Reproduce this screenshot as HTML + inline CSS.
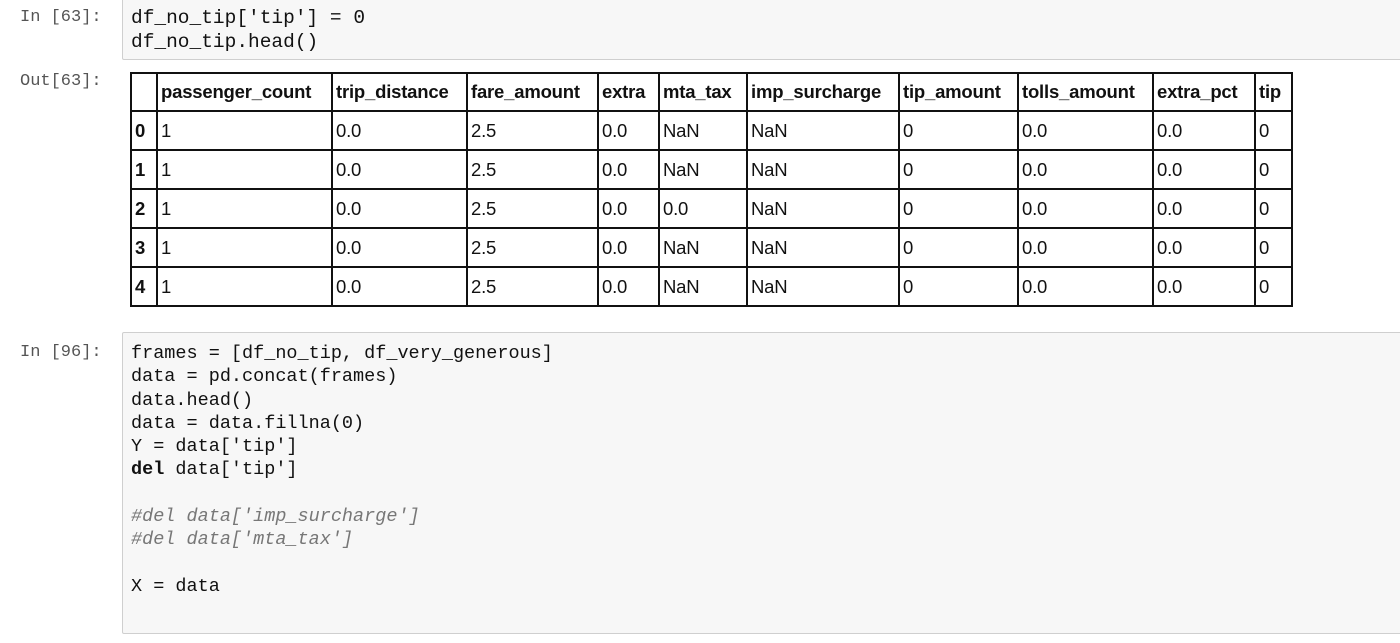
<!DOCTYPE html>
<html><head><meta charset="utf-8"><style>
body{margin:0;width:1400px;height:643px;background:#fff;position:relative;overflow:hidden;font-family:"Liberation Sans",sans-serif}
.p{position:absolute;font-family:"Liberation Mono",monospace;font-size:17px;color:#555}
.cell{position:absolute;left:122px;width:1290px;background:#f7f7f7;border:1px solid #cfcfcf;border-radius:2px}
pre{position:absolute;left:131px;margin:0;font-family:"Liberation Mono",monospace;font-size:18.5px;line-height:23.3px;color:#111}
.c{color:#777;font-style:italic}
table{position:absolute;left:130px;top:72px;border-collapse:collapse;font-size:18.5px;color:#111;letter-spacing:-0.2px}
td,th{border:2px solid #111;padding:0 3px;text-align:left;height:37px}
tr:first-child th{height:36px}
th{font-weight:bold}
</style></head><body>
<div class="p" style="left:20px;top:8px">In [63]:</div>
<div class="cell" style="top:-2px;height:60px"></div>
<pre style="top:6px;font-size:19.5px;line-height:24px">df_no_tip['tip'] = 0
df_no_tip.head()</pre>
<div class="p" style="left:20px;top:72px">Out[63]:</div>
<table>
<colgroup><col style="width:26px"><col style="width:175px"><col style="width:135px"><col style="width:131px"><col style="width:61px"><col style="width:88px"><col style="width:152px"><col style="width:119px"><col style="width:135px"><col style="width:102px"><col style="width:37px"></colgroup>
<tr><th></th><th>passenger_count</th><th>trip_distance</th><th>fare_amount</th><th>extra</th><th>mta_tax</th><th>imp_surcharge</th><th>tip_amount</th><th>tolls_amount</th><th>extra_pct</th><th>tip</th></tr>
<tr><th>0</th><td>1</td><td>0.0</td><td>2.5</td><td>0.0</td><td>NaN</td><td>NaN</td><td>0</td><td>0.0</td><td>0.0</td><td>0</td></tr>
<tr><th>1</th><td>1</td><td>0.0</td><td>2.5</td><td>0.0</td><td>NaN</td><td>NaN</td><td>0</td><td>0.0</td><td>0.0</td><td>0</td></tr>
<tr><th>2</th><td>1</td><td>0.0</td><td>2.5</td><td>0.0</td><td>0.0</td><td>NaN</td><td>0</td><td>0.0</td><td>0.0</td><td>0</td></tr>
<tr><th>3</th><td>1</td><td>0.0</td><td>2.5</td><td>0.0</td><td>NaN</td><td>NaN</td><td>0</td><td>0.0</td><td>0.0</td><td>0</td></tr>
<tr><th>4</th><td>1</td><td>0.0</td><td>2.5</td><td>0.0</td><td>NaN</td><td>NaN</td><td>0</td><td>0.0</td><td>0.0</td><td>0</td></tr>
</table>
<div class="p" style="left:20px;top:343px">In [96]:</div>
<div class="cell" style="top:332px;height:300px"></div>
<pre style="top:342px">frames = [df_no_tip, df_very_generous]
data = pd.concat(frames)
data.head()
data = data.fillna(0)
Y = data['tip']
<b>del</b> data['tip']

<span class="c">#del data['imp_surcharge']</span>
<span class="c">#del data['mta_tax']</span>

X = data</pre>
</body></html>
